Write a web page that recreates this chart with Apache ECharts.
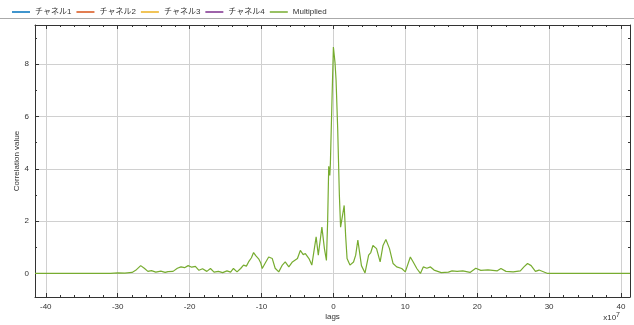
<!DOCTYPE html>
<html>
<head>
<meta charset="utf-8">
<script src="https://cdn.jsdelivr.net/npm/echarts@6/dist/echarts.min.js"></script>
<style>
  html, body { margin: 0; padding: 0; background: #fff; }
  #chart { width: 634px; height: 325px; }
</style>
</head>
<body>
<div id="chart"></div>
<script>
// lag positions (x10^7) and the multiplied correlation
const lags = [
  -41.5, -31, -30, -29, -28, -27.5, -26.8, -26.3, -25.8, -25.3, -24.7, -24, -23.4, -23, -22.3,
  -21.7, -21.2, -20.7, -20.2, -19.7, -19.2, -18.7, -18.2, -17.6, -17.1, -16.6,
  -16, -15.4, -14.8, -14.3, -13.9, -13.4, -12.9, -12.5, -12.1, -11.8, -11.4,
  -11.1, -10.8, -10.4, -10.1, -9.9, -9.4, -9.0, -8.5, -8.1, -7.6, -7.1, -6.7,
  -6.2, -5.7, -5.0, -4.6, -4.2, -3.9, -3.4, -3.0, -2.4, -2.1, -1.6, -1.25,
  -0.97, -0.8, -0.65, -0.5, -0.42, -0.18, 0.0, 0.23, 0.37, 0.6, 0.83, 1.0,
  1.25, 1.5, 1.7, 1.9, 2.3, 2.8, 3.1, 3.4, 3.9, 4.4, 4.9, 5.2, 5.5, 6.0, 6.5,
  6.9, 7.3, 7.8, 8.3, 8.8, 9.5, 10, 10.7, 11.1, 11.6, 12.1, 12.5, 13, 13.5, 14,
  15, 16, 16.5, 17.2, 18, 19, 19.8, 20.5, 21.5, 22.8, 23.3, 24, 25, 26, 26.5,
  27, 27.5, 28.1, 28.6, 29.8, 41.25
];
const multiplied = [
  0, 0, 0.02, 0.01, 0.04, 0.12, 0.3, 0.2, 0.08, 0.11, 0.05, 0.09, 0.04, 0.07, 0.08,
  0.2, 0.25, 0.22, 0.3, 0.24, 0.27, 0.12, 0.18, 0.08, 0.19, 0.05,
  0.08, 0.03, 0.1, 0.05, 0.19, 0.06, 0.19, 0.32, 0.28, 0.44, 0.6,
  0.8, 0.68, 0.56, 0.4, 0.19, 0.44, 0.63, 0.57, 0.2, 0.06, 0.32, 0.44,
  0.25, 0.44, 0.57, 0.88, 0.72, 0.76, 0.57, 0.32, 1.4, 0.7, 1.77, 0.95,
  0.5, 2.0, 4.1, 3.75, 4.2, 6.8, 8.66, 8.04, 7.4, 5.5, 3.0, 1.77,
  1.7, 2.6, 1.45, 0.57, 0.32, 0.44, 0.7, 1.28, 0.3, 0.02, 0.7, 0.8, 1.07, 0.95, 0.44,
  1.07, 1.3, 0.95, 0.38, 0.25, 0.19, 0.06, 0.63, 0.44, 0.19, 0.0, 0.25, 0.2, 0.25, 0.13,
  0.03, 0.05, 0.1, 0.08, 0.1, 0.04, 0.2, 0.12, 0.14, 0.1, 0.19, 0.08, 0.06, 0.1, 0.25,
  0.38, 0.3, 0.08, 0.13, 0.0, 0
];
// the four channels have no visible trace
const channel1 = [];
const channel2 = [];
const channel3 = [];
const channel4 = [];

const seriesNames = ['チャネル1', 'チャネル2', 'チャネル3', 'チャネル4', 'Multiplied'];
const seriesColors = ['#0072BD', '#D95319', '#EDB120', '#7E2F8E', '#77AC30'];
const seriesData = [channel1, channel2, channel3, channel4,
  multiplied.map((v, i) => [lags[i], v])];

const xMin = -41.5, xMax = 41.25;
const yMin = -0.9, yMax = 9.5;
const font = '"Liberation Sans", "Noto Sans CJK JP", sans-serif';

const chart = echarts.init(document.getElementById('chart'));

const baseAxis = {
  axisLine: { show: true, onZero: false, lineStyle: { color: '#333', width: 1 } },
  axisTick: { show: true, inside: true, length: 4, lineStyle: { color: '#333' } },
  minorTick: { show: true, length: 2, lineStyle: { color: '#333' } },
  axisLabel: { show: false },
  splitLine: { show: false }
};

const option = {
  animation: false,
  textStyle: { fontFamily: font },
  legend: {
    left: 7, top: 3,
    icon: 'rect', itemWidth: 18, itemHeight: 1.5, itemGap: 5,
    textStyle: { fontSize: 8, color: '#333', fontFamily: font },
    data: seriesNames
  },
  grid: { left: 35, right: 4, top: 25, bottom: 28, outerBoundsMode: 'none' },
  xAxis: [
    {
      type: 'value', min: xMin, max: xMax, splitNumber: 8, position: 'bottom',
      ...baseAxis,
      minorTick: { show: true, splitNumber: 5, length: 2, lineStyle: { color: '#333' } },
      axisLabel: { show: true, fontSize: 8, color: '#333', margin: 6,
        showMinLabel: false, showMaxLabel: false },
      splitLine: { show: true, lineStyle: { color: '#d0d0d0', width: 1 } },
      name: 'lags', nameLocation: 'middle', nameGap: 16, nameMoveOverlap: false,
      nameTextStyle: { fontSize: 8, color: '#333' }
    },
    {
      type: 'value', min: xMin, max: xMax, splitNumber: 8, position: 'top',
      ...baseAxis,
      minorTick: { show: true, splitNumber: 5, length: 2, lineStyle: { color: '#333' } }
    }
  ],
  yAxis: [
    {
      type: 'value', min: yMin, max: yMax, splitNumber: 5, position: 'left',
      ...baseAxis,
      minorTick: { show: true, splitNumber: 2, length: 2, lineStyle: { color: '#333' } },
      axisLabel: { show: true, fontSize: 8, color: '#333', margin: 6,
        showMinLabel: false, showMaxLabel: false },
      splitLine: { show: true, lineStyle: { color: '#d0d0d0', width: 1 } },
      name: 'Correlation value', nameLocation: 'middle', nameGap: 14, nameMoveOverlap: false,
      nameTextStyle: { fontSize: 8, color: '#333' }
    },
    {
      type: 'value', min: yMin, max: yMax, splitNumber: 5, position: 'right',
      ...baseAxis,
      minorTick: { show: true, splitNumber: 2, length: 2, lineStyle: { color: '#333' } }
    }
  ],
  graphic: [
    {
      type: 'line', silent: true,
      shape: { x1: 0, y1: 18.5, x2: 634, y2: 18.5 },
      style: { stroke: '#aaa', lineWidth: 1 }
    },
    {
      type: 'text', right: 14, bottom: 3, silent: true,
      style: {
        text: 'x10{sup|7}', fill: '#333', fontSize: 8, fontFamily: font,
        rich: { sup: { fontSize: 7, verticalAlign: 'top', padding: [0, 0, 6, 0] } }
      }
    }
  ],
  series: seriesNames.map((name, i) => ({
    name: name,
    type: 'line',
    data: seriesData[i],
    symbol: 'none',
    color: seriesColors[i],
    lineStyle: { width: 1.2, color: seriesColors[i] },
    z: i === 4 ? 3 : 2
  }))
};

chart.setOption(option);
</script>
</body>
</html>
